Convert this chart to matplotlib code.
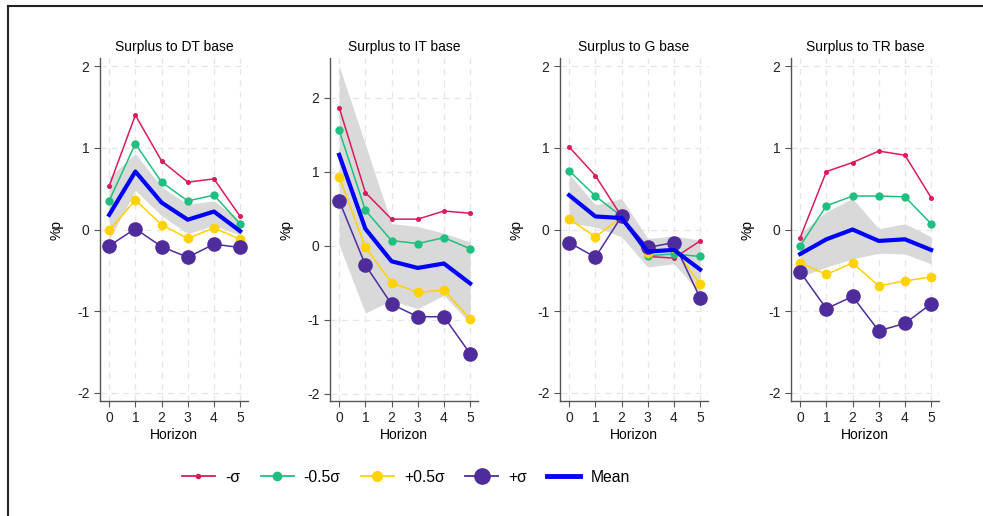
import matplotlib
matplotlib.use("Agg")
import matplotlib.pyplot as plt
from matplotlib.lines import Line2D

plt.rcParams['font.family'] = ['Liberation Sans', 'DejaVu Sans']
plt.rcParams['axes.unicode_minus'] = False

horizon = [0, 1, 2, 3, 4, 5]
titles = ["Surplus to DT base", "Surplus to IT base", "Surplus to G base", "Surplus to TR base"]

# responses by shock size, one list per panel
minus_sd = [
    [0.53, 1.40, 0.84, 0.58, 0.62, 0.16],
    [1.87, 0.72, 0.36, 0.36, 0.47, 0.44],
    [1.01, 0.66, 0.16, -0.33, -0.35, -0.14],
    [-0.10, 0.71, 0.82, 0.96, 0.91, 0.39],
]
minus_half_sd = [
    [0.35, 1.05, 0.58, 0.35, 0.42, 0.07],
    [1.56, 0.48, 0.07, 0.03, 0.11, -0.04],
    [0.72, 0.41, 0.16, -0.32, -0.30, -0.33],
    [-0.20, 0.29, 0.41, 0.41, 0.40, 0.07],
]
plus_half_sd = [
    [-0.01, 0.36, 0.06, -0.11, 0.02, -0.12],
    [0.93, -0.02, -0.50, -0.63, -0.60, -0.99],
    [0.13, -0.09, 0.15, -0.29, -0.23, -0.67],
    [-0.41, -0.55, -0.41, -0.69, -0.63, -0.58],
]
plus_sd = [
    [-0.20, 0.01, -0.21, -0.34, -0.18, -0.22],
    [0.61, -0.26, -0.79, -0.96, -0.96, -1.46],
    [-0.16, -0.34, 0.16, -0.22, -0.16, -0.84],
    [-0.52, -0.97, -0.82, -1.24, -1.15, -0.91],
]
mean = [
    [0.18, 0.71, 0.33, 0.12, 0.22, -0.02],
    [1.23, 0.23, -0.21, -0.30, -0.24, -0.51],
    [0.42, 0.16, 0.14, -0.27, -0.25, -0.49],
    [-0.30, -0.12, 0.00, -0.14, -0.12, -0.25],
]
band_hi = [
    [0.64, 0.93, 0.52, 0.31, 0.35, 0.11],
    [2.43, 1.37, 0.30, 0.26, 0.17, 0.05],
    [0.68, 0.30, 0.38, -0.11, -0.08, -0.13],
    [-0.05, 0.22, 0.38, 0.01, 0.07, -0.09],
]
band_lo = [
    [-0.13, 0.48, 0.17, -0.05, 0.05, -0.07],
    [0.01, -0.91, -0.74, -0.85, -0.67, -1.05],
    [0.08, 0.03, -0.09, -0.46, -0.42, -0.78],
    [-0.58, -0.46, -0.36, -0.29, -0.30, -0.42],
]
ytops = [2.1, 2.54, 2.1, 2.1]

red = '#d81b60'
green = '#1fbf80'
yellow = '#ffd200'
purple = '#4f2c9c'
blue = '#0000ff'

fig = plt.figure(figsize=(9.83, 5.16), dpi=100, facecolor='w')

lefts = [100, 330, 560, 791]
for i in range(4):
    ax = fig.add_axes([lefts[i] / 983, 1 - 401 / 516, 148 / 983, (401 - 58) / 516])
    ax.fill_between(horizon, band_lo[i], band_hi[i], color='#d9d9d9', lw=0, zorder=1)
    ax.plot(horizon, minus_sd[i], '-o', color=red, lw=1.1, ms=2.6, zorder=3)
    ax.plot(horizon, minus_half_sd[i], '-o', color=green, lw=1.1, ms=5, zorder=3)
    ax.plot(horizon, plus_half_sd[i], '-o', color=yellow, lw=1.1, ms=6, zorder=3)
    ax.plot(horizon, plus_sd[i], '-o', color=purple, lw=1.1, ms=9.5, zorder=3)
    ax.plot(horizon, mean[i], '-', color=blue, lw=3, zorder=4)

    ax.set_xlim(-0.35, 5.3)
    ax.set_ylim(-2.1, ytops[i])
    ax.set_xticks(horizon)
    ax.set_yticks([-2, -1, 0, 1, 2])
    ax.grid(True, color='#e6e6e6', ls=(0, (5, 4)), lw=0.9, zorder=0)
    ax.set_axisbelow(True)
    for s in ['top', 'right']:
        ax.spines[s].set_visible(False)
    for s in ['left', 'bottom']:
        ax.spines[s].set_color('#555555')
        ax.spines[s].set_linewidth(1.0)
    ax.tick_params(colors='#555555', labelcolor='#222222', labelsize=10, length=4, direction='out')
    ax.set_title(titles[i], fontsize=10, pad=5)
    ax.set_xlabel('Horizon', fontsize=10, labelpad=2)
    ax.set_ylabel('%p', fontsize=10, labelpad=10)

handles = [
    Line2D([], [], color=red, marker='o', ms=3, lw=1.3),
    Line2D([], [], color=green, marker='o', ms=6, lw=1.3),
    Line2D([], [], color=yellow, marker='o', ms=7, lw=1.3),
    Line2D([], [], color=purple, marker='o', ms=11, lw=1.3),
    Line2D([], [], color=blue, lw=3.5),
]
labels = ['-σ', '-0.5σ', '+0.5σ', '+σ', 'Mean']
fig.legend(handles, labels, loc='center', bbox_to_anchor=(406 / 983, 1 - 477 / 516), ncol=5,
           frameon=False, fontsize=11.3, handlelength=2.1, columnspacing=1.3, handletextpad=0.65)

# outer frame edges
fig.add_artist(Line2D([7.5 / 983, 7.5 / 983], [0, 1 - 5.5 / 516], color='#222222', lw=1.5))
fig.add_artist(Line2D([7.5 / 983, 1], [1 - 5.5 / 516, 1 - 5.5 / 516], color='#222222', lw=1.5))

plt.savefig("out.png", dpi=100)
